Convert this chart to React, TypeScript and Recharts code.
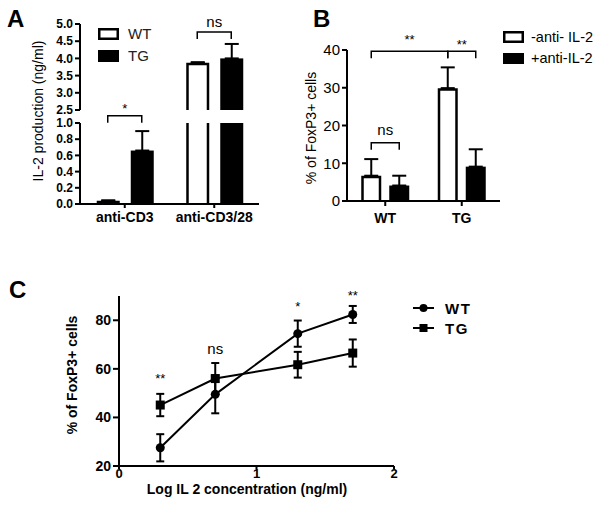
import React from 'react';
import {
  BarChart,
  Bar,
  XAxis,
  YAxis,
  ErrorBar,
  ReferenceLine,
  ReferenceDot,
  ComposedChart,
  Line,
} from 'recharts';

const FONT = '"Liberation Sans", Arial, Helvetica, sans-serif';

// Panel A - IL-2 production (broken axis)
const A_CATEGORIES = ['anti-CD3', 'anti-CD3/28'];
const A_WT = [0.04, 3.87];
const A_WT_ERR = [0.005, 0.02];
const A_TG = [0.66, 4.0];
const A_TG_ERR = [0.24, 0.42];
const A_LOWER_TICKS = [0, 0.2, 0.4, 0.6, 0.8, 1.0];
const A_UPPER_TICKS = [2.5, 3.0, 3.5, 4.0, 4.5, 5.0];

// Panel B - % FoxP3+ with / without anti-IL-2
const B_CATEGORIES = ['WT', 'TG'];
const B_MINUS = [6.7, 29.9];
const B_MINUS_ERR = [4.4, 5.5];
const B_PLUS = [4.1, 9.1];
const B_PLUS_ERR = [2.6, 4.6];
const B_TICKS = [0, 10, 20, 30, 40];

// Panel C - dose response
const C_X = [0.3, 0.7, 1.3, 1.7];
const C_WT = [27.5, 49.5, 74.5, 82.4];
const C_WT_ERR = [5.6, 7.8, 5.4, 3.5];
const C_TG = [45.1, 56.0, 61.7, 66.5];
const C_TG_ERR = [4.6, 6.4, 5.3, 5.6];
const C_SIG = ['**', 'ns', '*', '**'];
const C_SIG_Y = [56.2, 68.5, 85.6, 90.4];
const C_X_TICKS = [0, 1, 2];
const C_Y_TICKS = [20, 40, 60, 80];

const A_OFFSET = 0.19;
const B_OFFSET = 0.183;

const aRows = A_CATEGORIES.flatMap((c, i) => [
  { pos: i + 0.5 - A_OFFSET, value: A_WT[i], err: [0, A_WT_ERR[i]], group: 'open' },
  { pos: i + 0.5 + A_OFFSET, value: A_TG[i], err: [0, A_TG_ERR[i]], group: 'filled' },
]);
const aUpperRows = aRows.filter((r) => r.value >= A_UPPER_TICKS[0]);

const bRows = B_CATEGORIES.flatMap((c, i) => [
  { pos: i + 0.5 - B_OFFSET, value: B_MINUS[i], err: [0, B_MINUS_ERR[i]], group: 'open' },
  { pos: i + 0.5 + B_OFFSET, value: B_PLUS[i], err: [0, B_PLUS_ERR[i]], group: 'filled' },
]);

const cRows = C_X.map((x, i) => ({
  x,
  wt: C_WT[i],
  wtErr: C_WT_ERR[i],
  tg: C_TG[i],
  tgErr: C_TG_ERR[i],
}));

const axisLine = { stroke: '#000', strokeWidth: 2 };

const BarShape = (props: any) => {
  const { x, y, width, height, payload } = props;
  if (!payload || !isFinite(y) || !isFinite(height)) return null;
  if (payload.group === 'filled') {
    return <rect x={x} y={y} width={width} height={height} fill="#000" />;
  }
  const k = 1.25;
  return (
    <g>
      <rect x={x} y={y} width={width} height={height} fill="#fff" />
      <path
        d={`M${x + k},${y + height}V${y + k}H${x + width - k}V${y + height}`}
        fill="none"
        stroke="#000"
        strokeWidth={2.5}
      />
    </g>
  );
};

const Bracket = (props: any) => {
  const { x1, y1, x2, y2 } = props;
  return (
    <path
      d={`M${x1},${y1 + 7}V${y1}H${x2}V${y2 + 7}`}
      fill="none"
      stroke="#000"
      strokeWidth={1.5}
    />
  );
};

const sigLabel = (value: string, size = 13) => ({
  value,
  position: 'center' as const,
  fill: '#000',
  fontSize: size,
  fontFamily: FONT,
});

const Square = (props: any) => {
  const { cx, cy, index } = props;
  return <rect key={`sq-${index}`} x={cx - 4.5} y={cy - 4.5} width={9} height={9} fill="#000" />;
};

const Circle = (props: any) => {
  const { cx, cy, index } = props;
  return <circle key={`ci-${index}`} cx={cx} cy={cy} r={4.5} fill="#000" />;
};

export default function App() {
  const boldTick = { fill: '#000', fontSize: 12, fontWeight: 'bold', fontFamily: FONT };
  return (
    <div
      style={{
        position: 'absolute',
        left: 0,
        top: 0,
        width: 601,
        height: 506,
        background: '#fff',
        fontFamily: FONT,
        overflow: 'hidden',
      }}
    >
      {/* static text: panel letters, axis titles, legends */}
      <svg width={601} height={506} style={{ position: 'absolute', left: 0, top: 0 }} fontFamily={FONT}>
        <text x={7} y={27} fontSize={24} fontWeight="bold">A</text>
        <text x={313} y={27} fontSize={24} fontWeight="bold">B</text>
        <text x={9} y={298} fontSize={24} fontWeight="bold">C</text>

        <text transform="translate(38,111) rotate(-90)" textAnchor="middle" dominantBaseline="central" fontSize={14}>
          IL-2 production (ng/ml)
        </text>
        <text transform="translate(311,128) rotate(-90)" textAnchor="middle" dominantBaseline="central" fontSize={14}>
          % of FoxP3+ cells
        </text>
        <text transform="translate(72,375) rotate(-90)" textAnchor="middle" dominantBaseline="central" fontSize={14} fontWeight="bold">
          % of FoxP3+ cells
        </text>
        <text x={247} y={494} textAnchor="middle" fontSize={14} fontWeight="bold">
          Log IL 2 concentration (ng/ml)
        </text>

        {/* legend A */}
        <rect x={99.25} y={29.25} width={18.5} height={9.5} fill="#fff" stroke="#000" strokeWidth={2.5} />
        <rect x={98} y={50} width={21} height={12} fill="#000" />
        <text x={128} y={39} fontSize={15} fill="#222">WT</text>
        <text x={128} y={61} fontSize={15} fill="#222">TG</text>

        {/* legend B */}
        <rect x={504.25} y={32.25} width={18.5} height={9.5} fill="#fff" stroke="#000" strokeWidth={2.5} />
        <rect x={503} y={53} width={21} height={11} fill="#000" />
        <text x={531} y={42} fontSize={14.5}>-anti- IL-2</text>
        <text x={531} y={63} fontSize={14.5}>+anti-IL-2</text>

        {/* legend C */}
        <line x1={413} y1={308} x2={434} y2={308} stroke="#000" strokeWidth={2} />
        <circle cx={423.5} cy={308} r={4} fill="#000" />
        <line x1={413} y1={328} x2={434} y2={328} stroke="#000" strokeWidth={2} />
        <rect x={419.5} y={324} width={8} height={8} fill="#000" />
        <text x={445} y={313.5} fontSize={15} fontWeight="bold" letterSpacing={1.5}>WT</text>
        <text x={445} y={333.5} fontSize={15} fontWeight="bold" letterSpacing={1.5}>TG</text>
      </svg>

      {/* A: lower segment 0 - 1.0 */}
      <div style={{ position: 'absolute', left: 0, top: 0 }}>
        <BarChart width={265} height={234} data={aRows} margin={{ top: 123, right: 6, bottom: 10, left: 0 }}>
          <XAxis
            type="number"
            dataKey="pos"
            domain={[0, 2]}
            ticks={[0.5, 1.5]}
            interval={0}
            tickFormatter={(v: number) => A_CATEGORIES[Math.floor(v)]}
            axisLine={axisLine}
            tickLine={axisLine}
            tickSize={4}
            tickMargin={4}
            height={20}
            tick={{ fill: '#000', fontSize: 14, fontWeight: 'bold', fontFamily: FONT }}
          />
          <YAxis
            type="number"
            domain={[0, 1]}
            allowDataOverflow
            ticks={A_LOWER_TICKS}
            interval={0}
            tickFormatter={(v: number) => v.toFixed(1)}
            width={80}
            axisLine={axisLine}
            tickLine={axisLine}
            tickSize={5}
            tickMargin={2}
            tick={boldTick}
          />
          <Bar dataKey="value" barSize={23} shape={BarShape} isAnimationActive={false}>
            <ErrorBar dataKey="err" width={7} stroke="#000" strokeWidth={2} isAnimationActive={false} />
          </Bar>
          <ReferenceLine
            segment={[
              { x: 0.5 - A_OFFSET, y: 1.09 },
              { x: 0.5 + A_OFFSET, y: 1.09 },
            ]}
            ifOverflow="visible"
            shape={Bracket}
          />
          <ReferenceDot x={0.5} y={1.18} r={0} fill="none" stroke="none" ifOverflow="visible" label={sigLabel('*')} />
        </BarChart>
      </div>

      {/* A: upper segment 2.5 - 5.0 */}
      <div style={{ position: 'absolute', left: 0, top: 0 }}>
        <BarChart width={265} height={118} data={aUpperRows} margin={{ top: 24, right: 6, bottom: 8, left: 0 }}>
          <XAxis type="number" dataKey="pos" domain={[0, 2]} hide />
          <YAxis
            type="number"
            domain={[2.5, 5]}
            allowDataOverflow
            ticks={A_UPPER_TICKS}
            interval={0}
            tickFormatter={(v: number) => v.toFixed(1)}
            width={80}
            axisLine={axisLine}
            tickLine={axisLine}
            tickSize={5}
            tickMargin={2}
            tick={boldTick}
          />
          <Bar dataKey="value" barSize={23} shape={BarShape} isAnimationActive={false}>
            <ErrorBar dataKey="err" width={7} stroke="#000" strokeWidth={2} isAnimationActive={false} />
          </Bar>
          <ReferenceLine
            segment={[
              { x: 1.5 - A_OFFSET, y: 4.77 },
              { x: 1.5 + A_OFFSET, y: 4.77 },
            ]}
            ifOverflow="visible"
            shape={Bracket}
          />
          <ReferenceDot x={1.5} y={5.07} r={0} fill="none" stroke="none" ifOverflow="visible" label={sigLabel('ns', 15)} />
        </BarChart>
      </div>

      {/* B */}
      <div style={{ position: 'absolute', left: 290, top: 0 }}>
        <BarChart width={215} height={226} data={bRows} margin={{ top: 50, right: 5, bottom: 5, left: 0 }}>
          <XAxis
            type="number"
            dataKey="pos"
            domain={[0, 2]}
            ticks={[0.5, 1.5]}
            interval={0}
            tickFormatter={(v: number) => B_CATEGORIES[Math.floor(v)]}
            axisLine={axisLine}
            tickLine={axisLine}
            tickSize={5}
            tickMargin={7}
            height={20}
            tick={{ fill: '#000', fontSize: 14, fontWeight: 'bold', fontFamily: FONT }}
          />
          <YAxis
            type="number"
            domain={[0, 40]}
            ticks={B_TICKS}
            interval={0}
            width={57}
            axisLine={axisLine}
            tickLine={axisLine}
            tickSize={5}
            tickMargin={2}
            tick={{ fill: '#000', fontSize: 15, fontFamily: FONT }}
          />
          <Bar dataKey="value" barSize={20} shape={BarShape} isAnimationActive={false}>
            <ErrorBar dataKey="err" width={7} stroke="#000" strokeWidth={2} isAnimationActive={false} />
          </Bar>
          <ReferenceLine
            segment={[
              { x: 0.5 - B_OFFSET, y: 39.7 },
              { x: 1.5 - B_OFFSET, y: 39.7 },
            ]}
            ifOverflow="visible"
            shape={Bracket}
          />
          <ReferenceLine
            segment={[
              { x: 1.5 - B_OFFSET, y: 39.7 },
              { x: 1.5 + B_OFFSET, y: 39.7 },
            ]}
            ifOverflow="visible"
            shape={Bracket}
          />
          <ReferenceLine
            segment={[
              { x: 0.5 - B_OFFSET, y: 15.4 },
              { x: 0.5 + B_OFFSET, y: 15.4 },
            ]}
            ifOverflow="visible"
            shape={Bracket}
          />
          <ReferenceDot x={1 - B_OFFSET} y={42.7} r={0} fill="none" stroke="none" ifOverflow="visible" label={sigLabel('**')} />
          <ReferenceDot x={1.5} y={41.4} r={0} fill="none" stroke="none" ifOverflow="visible" label={sigLabel('**')} />
          <ReferenceDot x={0.5} y={18.9} r={0} fill="none" stroke="none" ifOverflow="visible" label={sigLabel('ns', 15)} />
        </BarChart>
      </div>

      {/* C */}
      <div style={{ position: 'absolute', left: 0, top: 270 }}>
        <ComposedChart width={420} height={230} data={cRows} margin={{ top: 26, right: 26, bottom: 4, left: 0 }}>
          <XAxis
            type="number"
            dataKey="x"
            domain={[0, 2]}
            ticks={C_X_TICKS}
            interval={0}
            axisLine={axisLine}
            tickLine={axisLine}
            tickSize={3}
            tickMargin={0}
            height={30}
            tick={{ fill: '#000', fontSize: 13, fontWeight: 'bold', fontFamily: FONT }}
          />
          <YAxis
            type="number"
            domain={[20, 90]}
            ticks={C_Y_TICKS}
            interval={0}
            width={119}
            axisLine={axisLine}
            tickLine={axisLine}
            tickSize={6}
            tickMargin={2}
            tick={{ fill: '#000', fontSize: 14, fontWeight: 'bold', fontFamily: FONT }}
          />
          <Line type="linear" dataKey="tg" stroke="#000" strokeWidth={2} dot={Square} activeDot={false} isAnimationActive={false}>
            <ErrorBar dataKey="tgErr" width={4} stroke="#000" strokeWidth={2} isAnimationActive={false} />
          </Line>
          <Line type="linear" dataKey="wt" stroke="#000" strokeWidth={2} dot={Circle} activeDot={false} isAnimationActive={false}>
            <ErrorBar dataKey="wtErr" width={4} stroke="#000" strokeWidth={2} isAnimationActive={false} />
          </Line>
          {C_X.map((x, i) => (
            <ReferenceDot
              key={`sig-${i}`}
              x={x}
              y={C_SIG_Y[i]}
              r={0}
              fill="none"
              stroke="none"
              ifOverflow="visible"
              label={sigLabel(C_SIG[i], C_SIG[i] === 'ns' ? 15 : 13)}
            />
          ))}
        </ComposedChart>
      </div>
    </div>
  );
}
